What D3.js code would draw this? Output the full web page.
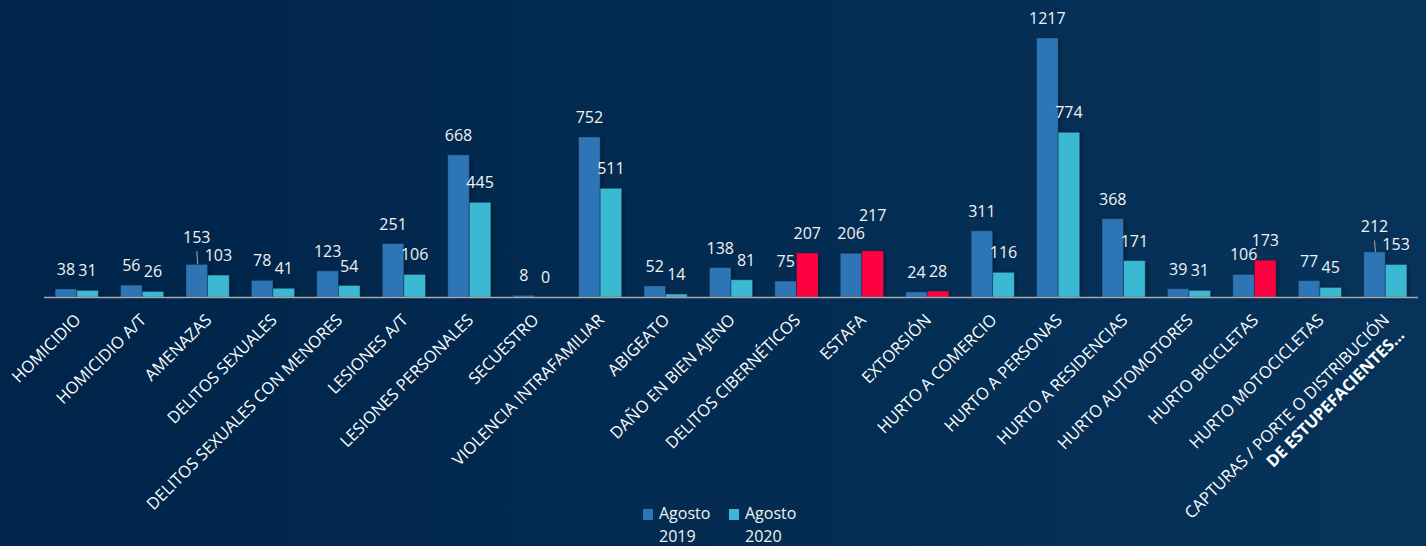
<!DOCTYPE html>
<html>
<head>
<meta charset="utf-8">
<script src="https://cdn.jsdelivr.net/npm/d3@7"></script>
<style>
  html, body { margin: 0; padding: 0; background: #03284d; }
  #chart { width: 1426px; height: 546px; }
</style>
</head>
<body>
<div id="chart"></div>
<script>
(function() {
    var width = 1426,
        height = 546;

    // categories as shown on the x axis ("|" = line break)
    var categories = [
        "HOMICIDIO", "HOMICIDIO A/T", "AMENAZAS", "DELITOS SEXUALES",
        "DELITOS SEXUALES CON MENORES", "LESIONES A/T", "LESIONES PERSONALES",
        "SECUESTRO", "VIOLENCIA INTRAFAMILIAR", "ABIGEATO", "DAÑO EN BIEN AJENO",
        "DELITOS CIBERNÉTICOS", "ESTAFA", "EXTORSIÓN", "HURTO A COMERCIO",
        "HURTO A PERSONAS", "HURTO A RESIDENCIAS", "HURTO AUTOMOTORES",
        "HURTO BICICLETAS", "HURTO MOTOCICLETAS",
        "CAPTURAS / PORTE O DISTRIBUCIÓN|DE ESTUPEFACIENTES..."
    ];
    var agosto2019 = [38, 56, 153, 78, 123, 251, 668, 8, 752, 52, 138, 75, 206, 24, 311, 1217, 368, 39, 106, 77, 212];
    var agosto2020 = [31, 26, 103, 41, 54, 106, 445, 0, 511, 14, 81, 207, 217, 28, 116, 774, 171, 31, 173, 45, 153];
    var seriesNames = ["Agosto 2019", "Agosto 2020"];

    var colors = { s2019: "#2e75b6", s2020: "#3ab9d3", up: "#ff0040" };

    var svg = d3.select("#chart")
        .append("svg")
        .attr("width", width)
        .attr("height", height);

    // background gradient
    var defs = svg.append("defs");
    var grad = defs.append("linearGradient").attr("id", "bg")
        .attr("x1", "0%").attr("x2", "100%").attr("y1", "0%").attr("y2", "0%");
    grad.append("stop").attr("offset", "0%").attr("stop-color", "#00244a");
    grad.append("stop").attr("offset", "100%").attr("stop-color", "#07335a");

    var shadow = defs.append("filter").attr("id", "shadow")
        .attr("x", "-20%").attr("y", "-20%").attr("width", "160%").attr("height", "140%");
    shadow.append("feDropShadow").attr("dx", 2).attr("dy", 1).attr("stdDeviation", 2)
        .attr("flood-color", "#000").attr("flood-opacity", 0.35);

    svg.append("rect").attr("width", width).attr("height", height).attr("fill", "url(#bg)");

    var x = d3.scaleBand()
        .domain(categories)
        .range([44, 1418])
        .paddingInner(0.34)
        .paddingOuter(0.17);

    var xs = d3.scaleBand().domain([0, 1]).range([0, x.bandwidth()]);

    var y = d3.scaleLinear().domain([0, 1217]).range([297, 38]);

    var data = categories.map(function(c, i) {
        return { cat: c, v: [agosto2019[i], agosto2020[i]] };
    });

    var groups = svg.selectAll(".grp")
        .data(data)
        .enter().append("g")
        .attr("class", "grp")
        .attr("transform", function(d) { return "translate(" + x(d.cat) + ",0)"; });

    groups.selectAll("rect")
        .data(function(d) {
            return d.v.map(function(v, s) { return { s: s, v: v, other: d.v[0] }; });
        })
        .enter().append("rect")
        .attr("x", function(d) { return xs(d.s); })
        .attr("width", xs.bandwidth())
        .attr("y", function(d) { return y(d.v); })
        .attr("height", function(d) { return y(0) - y(d.v); })
        .attr("fill", function(d) {
            if (d.s === 0) return colors.s2019;
            // red when 2020 went up
            return d.v > d.other ? colors.up : colors.s2020;
        })
        .attr("stroke", "rgba(10,40,70,0.5)")
        .attr("stroke-width", 0.8)
        .attr("filter", "url(#shadow)");

    // axis line
    svg.append("line")
        .attr("x1", 44).attr("x2", 1418)
        .attr("y1", y(0) + 0.5).attr("y2", y(0) + 0.5)
        .attr("stroke", "#a5a9ae").attr("stroke-width", 1.5);

    // data labels, raise the bigger one when the two overlap
    var capH = 12;
    groups.each(function(d) {
        var g = d3.select(this);
        var labels = d.v.map(function(v, s) {
            var t = g.append("text")
                .attr("text-anchor", "middle")
                .attr("x", xs(s) + xs.bandwidth() / 2)
                .attr("y", y(v) - 14)
                .attr("fill", "#f2f2f2")
                .style("font-family", "'Open Sans', sans-serif")
                .style("font-size", "16px")
                .text(v);
            var w = t.node().getComputedTextLength();
            return { t: t, s: s, v: v, cx: xs(s) + xs.bandwidth() / 2, w: w, base: y(v) - 14 };
        });
        var a = labels[0], b = labels[1];
        var dist = b.cx - a.cx, need = (a.w + b.w) / 2;
        var yOver = Math.abs(a.base - b.base) < capH + 2;
        if (yOver && dist < need - 3) {
            var hi = a.v >= b.v ? a : b, lo = hi === a ? b : a;
            hi.base = lo.base - capH - 6;
            hi.t.attr("y", hi.base);
            if (hi.s === 0) {
                g.append("line")
                    .attr("x1", hi.cx).attr("x2", hi.cx + 1)
                    .attr("y1", hi.base + 8).attr("y2", y(hi.v))
                    .attr("stroke", "#a5a9ae").attr("stroke-width", 1);
            }
        } else if (yOver && dist < need + 3) {
            // just nudge the second one to the right
            b.cx = a.cx + need + 3;
            b.t.attr("x", b.cx);
        }
    });

    // category labels rotated 45 degrees
    groups.append("text")
        .attr("transform", "translate(" + (x.bandwidth() / 2 + 5) + ",321) rotate(-45)")
        .attr("text-anchor", "end")
        .attr("fill", "#ffffff")
        .style("font-family", "'Open Sans', sans-serif")
        .style("font-size", "16.5px")
        .each(function(d) {
            var parts = d.cat.split("|");
            var t = d3.select(this);
            parts.forEach(function(p, i) {
                t.append("tspan")
                    .attr("x", 0)
                    .attr("dy", i === 0 ? 0 : "1.3em")
                    .style("font-weight", i === 0 ? "normal" : "bold")
                    .text(p);
            });
        });

    // legend
    var legend = svg.append("g").attr("transform", "translate(643,509)");
    var legendCols = [colors.s2019, colors.s2020];
    seriesNames.forEach(function(n, i) {
        var lg = legend.append("g").attr("transform", "translate(" + (i * 86) + ",0)");
        lg.append("rect").attr("width", 10).attr("height", 11).attr("fill", legendCols[i]);
        var t = lg.append("text")
            .attr("x", 16).attr("y", 10)
            .attr("fill", "#f2f2f2")
            .style("font-family", "'Open Sans', sans-serif")
            .style("font-size", "16px");
        n.split(" ").forEach(function(p, j) {
            t.append("tspan").attr("x", 16).attr("dy", j === 0 ? 0 : 23).text(p);
        });
    });

})();
</script>
</body>
</html>
